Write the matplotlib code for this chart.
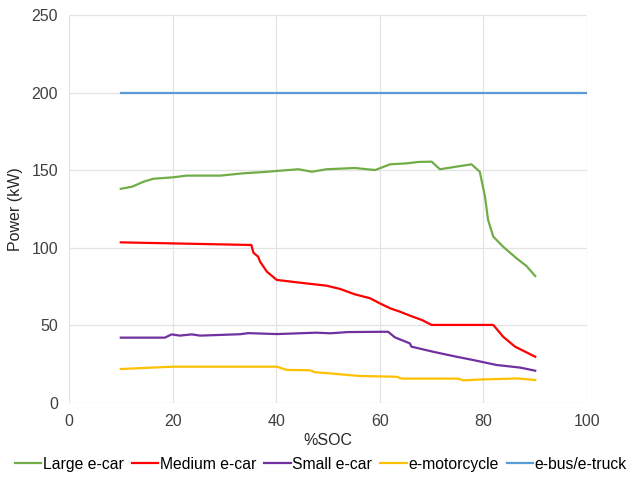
import matplotlib.pyplot as plt

plt.rcParams['font.family'] = ['Liberation Sans', 'DejaVu Sans']

# Charging power curves vs state of charge
large_soc = [10, 12.2, 14.4, 16.3, 20.1, 22.7, 29.2, 33.7, 37.5, 40.1, 44.3, 46.9, 49.7,
             55.2, 59.1, 62.0, 65.2, 67.4, 70.0, 71.6, 74.8, 77.7, 79.3, 80.3, 80.9,
             81.9, 83.8, 86.4, 88.3, 90]
large_kw = [138, 139.4, 142.6, 144.5, 145.4, 146.5, 146.5, 148, 148.8, 149.5, 150.6, 149, 150.6,
            151.4, 150.1, 153.8, 154.4, 155.3, 155.5, 150.6, 152.3, 153.8, 149, 133, 117.9,
            107.2, 100.7, 93.2, 88.3, 81.8]

medium_soc = [10, 35.2, 35.6, 36.5, 36.9, 38.2, 40.1, 44.6, 49.7, 52.3, 55.2, 58.1, 60.0,
              62.0, 63.9, 65.8, 68.1, 70.0, 81.9, 83.8, 86.1, 90]
medium_kw = [103.5, 101.8, 96.8, 94.3, 91, 84.6, 79.3, 77.5, 75.6, 73.5, 70, 67.5, 64.2,
             61, 58.8, 56.3, 53.5, 50.3, 50.3, 42.7, 36.3, 29.8]

small_soc = [10, 18.5, 19.8, 21.4, 23.7, 25.3, 33.0, 34.6, 40.1, 47.8, 50.4, 53.9, 61.6,
             62.9, 65.8, 66.1, 70.3, 74.8, 78.0, 82.5, 87.1, 90]
small_kw = [42.1, 42.1, 44.2, 43.4, 44.2, 43.4, 44.3, 45, 44.4, 45.3, 44.9, 45.7, 45.9,
            42.3, 38.4, 36.3, 33, 29.8, 27.7, 24.5, 22.8, 20.8]

moto_soc = [10, 20.1, 40.1, 42.0, 46.5, 47.5, 50.4, 53.9, 56.2, 63.2, 64.2, 75.1, 76.1,
            80.0, 86.7, 90]
moto_kw = [21.9, 23.4, 23.4, 21.3, 21.1, 19.8, 19.1, 18, 17.4, 16.9, 15.7, 15.7, 14.6,
           15.2, 15.8, 14.8]

bus_soc = [10, 100]
bus_kw = [200, 200]

series = [
    ("Large e-car", large_soc, large_kw, "#70AD47"),
    ("Medium e-car", medium_soc, medium_kw, "#FF0000"),
    ("Small e-car", small_soc, small_kw, "#7030A0"),
    ("e-motorcycle", moto_soc, moto_kw, "#FFC000"),
    ("e-bus/e-truck", bus_soc, bus_kw, "#5B9BD5"),
]

fig = plt.figure(figsize=(6.36, 4.79), dpi=100)
ax = fig.add_axes([0.1085, 0.1587, 0.8145, 0.81])

for name, xs, ys, col in series:
    ax.plot(xs, ys, color=col, linewidth=1.6, label=name)

ax.set_xlim(0, 100)
ax.set_ylim(0, 250)
ax.set_xticks(range(0, 101, 20))
ax.set_yticks(range(0, 251, 50))
ax.grid(True, color="#E3E3E3", linewidth=0.9)
ax.set_axisbelow(True)
for s in ax.spines.values():
    s.set_visible(False)
ax.tick_params(length=0, labelsize=11.5, labelcolor="#404040", pad=8)

ax.set_xlabel("%SOC", fontsize=11.5, color="#262626", labelpad=3)
ax.set_ylabel("Power (kW)", fontsize=11.5, color="#262626", labelpad=6)

ax.legend(loc="upper center", bbox_to_anchor=(0.486, -0.138), ncol=5, frameon=False,
          fontsize=11.3, handlelength=1.7, handletextpad=0.1, columnspacing=0.5,
          borderaxespad=0, borderpad=0)

fig.savefig("out.png", dpi=100)
